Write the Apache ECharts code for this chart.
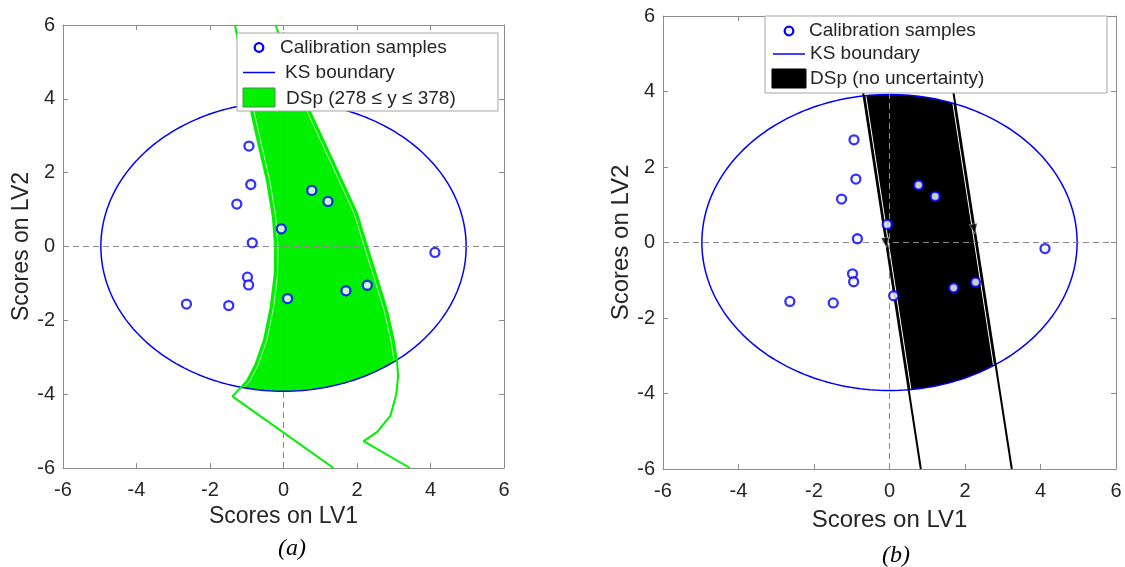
<!DOCTYPE html>
<html>
<head>
<meta charset="utf-8">
<script src="https://cdn.jsdelivr.net/npm/echarts@6/dist/echarts.min.js"></script>
<style>
html,body{margin:0;padding:0;background:#fff;}
#chart{width:1125px;height:567px;}
</style>
</head>
<body>
<div id="chart"></div>
<script>
// Calibration sample scores on LV1 / LV2
const sampleLV1 = [-0.94, -0.89, -1.27, -0.06, -0.85, 0.77, 1.21, 4.12, -0.98, -0.95, -2.64, -1.49, 0.11, 1.70, 2.28];
const sampleLV2 = [2.72, 1.68, 1.15, 0.48, 0.10, 1.52, 1.22, -0.16, -0.83, -1.04, -1.56, -1.60, -1.41, -1.20, -1.05];

// KS boundary ellipse: centre and semi-axes (LV1, LV2)
const ksCenter = [0, 0];
const ksSemiAxes = [4.97, 3.92];

// DSp edges for 278 <= y <= 378 (with uncertainty), panel (a)
const dspLeftEdgeA = [[-1.32, 6.0], [-0.87, 3.61], [-0.68, 2.76], [-0.45, 1.78], [-0.29, 0.80], [-0.23, 0.0],
  [-0.24, -0.76], [-0.35, -1.65], [-0.53, -2.53], [-0.77, -3.21], [-1.00, -3.65], [-1.39, -4.06], [1.36, -6.0]];
const dspRightEdgeA = [[-0.22, 6.0], [0.73, 3.64], [1.23, 2.57], [1.64, 1.68], [2.00, 0.90], [2.27, 0.02],
  [2.55, -0.86], [2.82, -1.74], [3.00, -2.53], [3.09, -3.11], [3.12, -3.51], [3.07, -4.00], [2.91, -4.58],
  [2.55, -5.02], [2.18, -5.27], [3.44, -6.0]];

// DSp edges without uncertainty, panel (b)
const dspLeftEdgeB = [[-1.01, 6.0], [0.83, -6.0]];
const dspRightEdgeB = [[1.38, 6.0], [3.24, -6.0]];
const dspArrowsB = [[-0.10, 0.0], [2.24, 0.36]];

// axis range and tick step (both axes, both panels)
const axisRange = [-6, 6];
const axisStep = 2;

const FONT = '"Liberation Sans", Arial, Helvetica, sans-serif';
const AXIS_GRAY = '#8c8c8c';
const TEXT_DARK = '#262626';

// ---------- geometry helpers ----------
function ellipsePoints(n) {
  const pts = [];
  for (let i = 0; i < n; i++) {
    const t = (i / n) * 2 * Math.PI;
    pts.push([ksCenter[0] + ksSemiAxes[0] * Math.cos(t), ksCenter[1] + ksSemiAxes[1] * Math.sin(t)]);
  }
  return pts;
}
const ksPolygon = ellipsePoints(240);           // counter-clockwise
const ksClosed = ksPolygon.concat([ksPolygon[0]]);

function side(a, b, p) {
  return (b[0] - a[0]) * (p[1] - a[1]) - (b[1] - a[1]) * (p[0] - a[0]);
}
// Sutherland-Hodgman clip of a polygon (closed) or polyline (open) against a convex CCW polygon
function clipTo(subject, clipPoly, closed) {
  let out = subject.slice();
  for (let i = 0; i < clipPoly.length && out.length; i++) {
    const a = clipPoly[i], b = clipPoly[(i + 1) % clipPoly.length];
    const inside = p => side(a, b, p) >= 0;
    const cut = (p, q) => {
      const d1 = side(a, b, p), d2 = side(a, b, q), t = d1 / (d1 - d2);
      return [p[0] + t * (q[0] - p[0]), p[1] + t * (q[1] - p[1])];
    };
    const inp = out;
    out = [];
    const m = inp.length;
    if (closed) {
      for (let j = 0; j < m; j++) {
        const p = inp[(j - 1 + m) % m], q = inp[j];
        if (inside(q)) { if (!inside(p)) out.push(cut(p, q)); out.push(q); }
        else if (inside(p)) out.push(cut(p, q));
      }
    } else {
      if (inside(inp[0])) out.push(inp[0]);
      for (let j = 1; j < m; j++) {
        const p = inp[j - 1], q = inp[j];
        if (inside(q)) { if (!inside(p)) out.push(cut(p, q)); out.push(q); }
        else if (inside(p)) out.push(cut(p, q));
      }
    }
  }
  return out;
}
const shiftX = (pts, dx) => pts.map(p => [p[0] + dx, p[1]]);

// DSp regions restricted to the KS boundary
const dspFillA = clipTo(dspLeftEdgeA.concat(dspRightEdgeA.slice().reverse()), ksPolygon, true);
const dspFillB = clipTo(dspLeftEdgeB.concat(dspRightEdgeB.slice().reverse()), ksPolygon, true);

// ---------- chart ----------
const chart = echarts.init(document.getElementById('chart'), null, { renderer: 'canvas' });

function xAxes(grid) {
  const base = {
    gridIndex: grid, type: 'value', min: axisRange[0], max: axisRange[1], interval: axisStep,
    axisLine: { show: true, onZero: false, lineStyle: { color: AXIS_GRAY, width: 1 } },
    axisTick: { show: true, inside: true, length: 5, lineStyle: { color: AXIS_GRAY } },
    splitLine: { show: false }
  };
  return [
    Object.assign({}, base, {
      position: 'bottom',
      axisLabel: { fontSize: 20, color: TEXT_DARK, margin: 12, fontFamily: FONT },
      name: 'Scores on LV1', nameLocation: 'middle', nameGap: grid ? 39 : 37,
      nameTextStyle: { fontSize: grid ? 24 : 23, color: TEXT_DARK, fontFamily: FONT }
    }),
    Object.assign({}, base, { position: 'top', axisLabel: { show: false } })
  ];
}
function yAxes(grid) {
  const base = {
    gridIndex: grid, type: 'value', min: axisRange[0], max: axisRange[1], interval: axisStep,
    axisLine: { show: true, onZero: false, lineStyle: { color: AXIS_GRAY, width: 1 } },
    axisTick: { show: true, inside: true, length: 5, lineStyle: { color: AXIS_GRAY } },
    splitLine: { show: false }
  };
  return [
    Object.assign({}, base, {
      position: 'left',
      axisLabel: { fontSize: 20, color: TEXT_DARK, margin: 8, fontFamily: FONT },
      name: 'Scores on LV2', nameLocation: 'middle', nameGap: 30,
      nameTextStyle: { fontSize: grid ? 24 : 23, color: TEXT_DARK, fontFamily: FONT }
    }),
    Object.assign({}, base, { position: 'right', axisLabel: { show: false } })
  ];
}

function polygonSeries(axisIdx, pts, fill, z) {
  return {
    type: 'custom', xAxisIndex: axisIdx, yAxisIndex: axisIdx, clip: true, silent: true, z: z,
    data: [[0, 0]],
    renderItem: (params, api) => ({
      type: 'polygon',
      shape: { points: pts.map(p => api.coord(p)) },
      style: { fill: fill, stroke: null }
    })
  };
}
function lineSeries(axisIdx, pts, color, width, z, dash) {
  return {
    type: 'line', xAxisIndex: axisIdx, yAxisIndex: axisIdx, data: pts, symbol: 'none',
    clip: true, silent: true, z: z,
    lineStyle: { color: color, width: width, type: dash || 'solid' }
  };
}
function samplesSeries(axisIdx) {
  return {
    type: 'scatter', xAxisIndex: axisIdx, yAxisIndex: axisIdx, z: 10, silent: true,
    data: sampleLV1.map((v, i) => [v, sampleLV2[i]]),
    symbol: 'circle', symbolSize: 9,
    itemStyle: { color: '#ffffff', borderColor: '#0000ff', borderWidth: 2.3 }
  };
}
function zeroLines(axisIdx) {
  return [
    lineSeries(axisIdx, [[axisRange[0], 0], [axisRange[1], 0]], '#8a8a8a', 1, 6, [6, 4]),
    lineSeries(axisIdx, [[0, axisRange[0]], [0, axisRange[1]]], '#8a8a8a', 1, 6, [6, 4])
  ];
}

const GREEN = '#00f000';
const series = [
  // panel (a)
  polygonSeries(0, dspFillA, GREEN, 1),
  lineSeries(0, clipTo(shiftX(dspLeftEdgeA, 0.08), ksPolygon, false), '#e8ffe8', 0.8, 2),
  lineSeries(0, clipTo(shiftX(dspRightEdgeA, -0.08), ksPolygon, false), '#e8ffe8', 0.8, 2),
  lineSeries(0, ksClosed, '#0000ff', 1.5, 4),
  ...zeroLines(0),
  lineSeries(0, dspLeftEdgeA, GREEN, 2, 7),
  lineSeries(0, dspRightEdgeA, GREEN, 2, 7),
  samplesSeries(0),
  // panel (b)
  polygonSeries(2, dspFillB, '#000000', 1),
  lineSeries(2, clipTo(shiftX(dspLeftEdgeB, 0.06), ksPolygon, false), '#ffffff', 1, 2),
  lineSeries(2, clipTo(shiftX(dspRightEdgeB, -0.06), ksPolygon, false), '#ffffff', 1, 2),
  lineSeries(2, ksClosed, '#0000ff', 1.5, 4),
  ...zeroLines(2),
  lineSeries(2, dspLeftEdgeB, '#000000', 2, 7),
  lineSeries(2, dspRightEdgeB, '#000000', 2, 7),
  {
    type: 'scatter', xAxisIndex: 2, yAxisIndex: 2, z: 8, silent: true,
    data: dspArrowsB, symbol: 'triangle', symbolSize: [8, 10], symbolRotate: 189,
    itemStyle: { color: '#000000', borderColor: '#ffffff', borderWidth: 0.5 }
  },
  samplesSeries(2)
];

// legend boxes drawn as graphic elements
function legend(box, rows, fillColor, fillStroke) {
  const els = [
    { type: 'rect', shape: { x: box.x, y: box.y, width: box.w, height: box.h },
      style: { fill: '#ffffff', stroke: '#a6a6a6', lineWidth: 1 }, z: 100 },
    { type: 'circle', shape: { cx: rows.marker[0], cy: rows.marker[1], r: 4.3 },
      style: { fill: '#ffffff', stroke: '#0000ff', lineWidth: 2.3 }, z: 101 },
    { type: 'line', shape: { x1: rows.line[0], y1: rows.line[2], x2: rows.line[1], y2: rows.line[2] },
      style: { stroke: '#0000ff', lineWidth: 1.5 }, z: 101 },
    { type: 'rect', shape: { x: rows.rect[0], y: rows.rect[1], width: rows.rect[2], height: rows.rect[3] },
      style: { fill: fillColor, stroke: fillStroke, lineWidth: 1 }, z: 101 }
  ];
  rows.texts.forEach(t => els.push({
    type: 'text', x: t[1], y: t[2], z: 102,
    style: { text: t[0], fill: TEXT_DARK, font: '19px ' + FONT, verticalAlign: 'middle', align: 'left' }
  }));
  return els;
}

const graphic = [
  ...legend({ x: 237, y: 33, w: 261, h: 78 }, {
    marker: [259, 47.5], line: [243, 275, 72.5], rect: [243, 88, 32, 19],
    texts: [['Calibration samples', 280, 47.5], ['KS boundary', 285, 72.5], ['DSp (278 \u2264 y \u2264 378)', 286, 98.5]]
  }, GREEN, '#4a8f4a'),
  ...legend({ x: 765, y: 16, w: 342, h: 77 }, {
    marker: [789, 31], line: [773, 805, 54], rect: [772, 69, 34, 19],
    texts: [['Calibration samples', 809, 31], ['KS boundary', 810, 54], ['DSp (no uncertainty)', 810, 79]]
  }, '#000000', '#000000'),
  { type: 'text', x: 292, y: 549, z: 100,
    style: { text: '(a)', fill: '#000', font: 'italic 24px "Liberation Serif", "Times New Roman", serif',
      align: 'center', verticalAlign: 'middle' } },
  { type: 'text', x: 896, y: 556, z: 100,
    style: { text: '(b)', fill: '#000', font: 'italic 24px "Liberation Serif", "Times New Roman", serif',
      align: 'center', verticalAlign: 'middle' } }
];

chart.setOption({
  animation: false,
  backgroundColor: '#ffffff',
  textStyle: { fontFamily: FONT },
  grid: [
    { left: 63, top: 25, width: 441, height: 443 },
    { left: 663, top: 16, width: 453, height: 453 }
  ],
  xAxis: [...xAxes(0), ...xAxes(1)],
  yAxis: [...yAxes(0), ...yAxes(1)],
  series: series,
  graphic: graphic
});
</script>
</body>
</html>
